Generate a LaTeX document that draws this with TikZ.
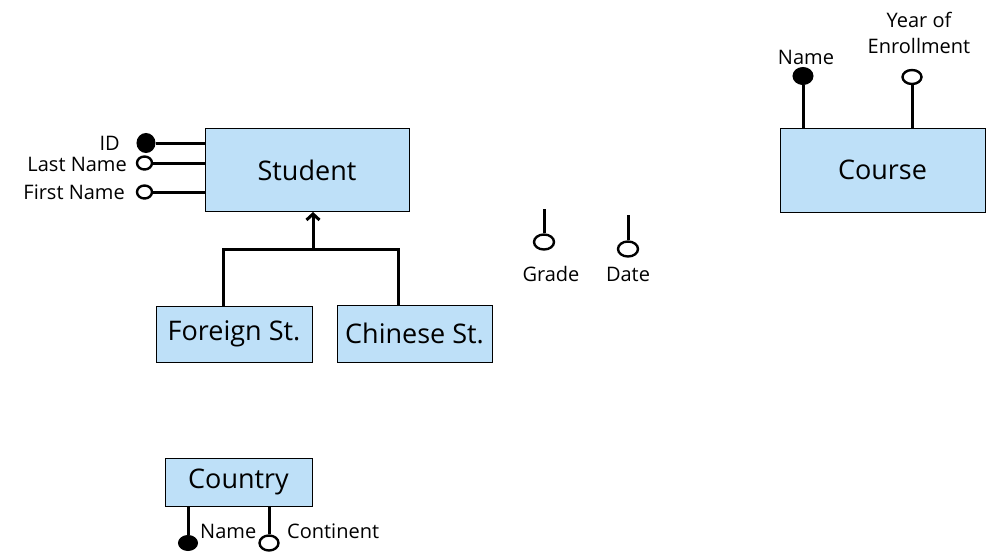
\documentclass[tikz,border=0pt]{standalone}
\usepackage{fontspec}
\setmainfont{Open Sans}
\usetikzlibrary{shapes.geometric,calc,arrows.meta}
\definecolor{entfill}{RGB}{190,224,248}
\tikzset{
  entity/.style={rectangle, draw=black, line width=0.9pt, fill=entfill, inner sep=0pt, font=\fontsize{27}{30}\selectfont},
  conn/.style={line width=3pt, draw=black},
  keyattr/.style={ellipse, fill=black, draw=black, line width=1pt, inner sep=0pt},
  attr/.style={ellipse, fill=white, draw=black, line width=2.4pt, inner sep=0pt},
  lbl/.style={inner sep=0pt, font=\fontsize{20}{23}\selectfont}
}
\begin{document}
\begin{tikzpicture}[x=1pt,y=-1pt]
\useasboundingbox (0,0) rectangle (986,557);

% entities
\node[entity, minimum width=204pt, minimum height=83pt] (student) at (307,170) {Student};
\node[entity, minimum width=205pt, minimum height=84pt] (course) at (882.5,170) {Course};
\node[entity, minimum width=156pt, minimum height=56pt] (foreign) at (234,334) {Foreign St.};
\node[entity, minimum width=155pt, minimum height=57pt] (chinese) at (414.5,333.5) {Chinese St.};
\node[entity, minimum width=147pt, minimum height=48pt] (country) at (238.5,482) {Country};

% student attributes
\node[keyattr, minimum width=18pt, minimum height=19pt] (sid) at (146,143) {};
\node[attr, minimum width=15pt, minimum height=13pt] (slast) at (144.5,163) {};
\node[attr, minimum width=15pt, minimum height=13pt] (sfirst) at (144.5,192) {};
\draw[conn] (sid) -- (sid -| student.west);
\draw[conn] (slast) -- (slast -| student.west);
\draw[conn] (sfirst) -- (sfirst -| student.west);
\node[lbl, anchor=east] (lid) at (120,143) {ID};
\node[lbl, anchor=east] (llast) at (127,164) {Last Name};
\node[lbl, anchor=east] (lfirst) at (125,192) {First Name};

% specialisation
\coordinate (isa) at (313,249);
\draw[conn] ($(foreign.north)+(-11,0)$) |- (isa) -| ($(chinese.north)+(-16.5,0)$);
\draw[conn, -{Straight Barb[length=6pt,width=13pt]}] (isa) -- (isa |- student.south);

% relationship attributes
\coordinate (gtop) at (544,209);
\coordinate (dtop) at (628,215);
\node[attr, minimum width=20pt, minimum height=15pt] (grade) at (544,242) {};
\node[attr, minimum width=20pt, minimum height=15pt] (date) at (628,249) {};
\draw[conn] (gtop) -- (grade);
\draw[conn] (dtop) -- (date);
\node[lbl] (lgrade) at (551,274) {Grade};
\node[lbl] (ldate) at (628,274) {Date};

% course attributes
\node[keyattr, minimum width=20pt, minimum height=17pt] (cname) at (803,76) {};
\node[attr, minimum width=19pt, minimum height=14pt] (cyear) at (912,77) {};
\draw[conn] (cname) -- (cname |- course.north);
\draw[conn] (cyear) -- (cyear |- course.north);
\node[lbl] (lcname) at (806,57) {Name};
\node[lbl, align=center, font=\fontsize{20}{26}\selectfont] (lcyear) at (919,33) {Year of\\Enrollment};

% country attributes
\node[keyattr, minimum width=19pt, minimum height=15pt] (kname) at (188,543) {};
\node[attr, minimum width=19pt, minimum height=15pt] (kcont) at (269,543) {};
\draw[conn] (kname |- country.south) -- (kname);
\draw[conn] (kcont |- country.south) -- (kcont);
\node[lbl, anchor=west] (lkname) at (200,531) {Name};
\node[lbl, anchor=west] (lkcont) at (287,531) {Continent};
\end{tikzpicture}
\end{document}
